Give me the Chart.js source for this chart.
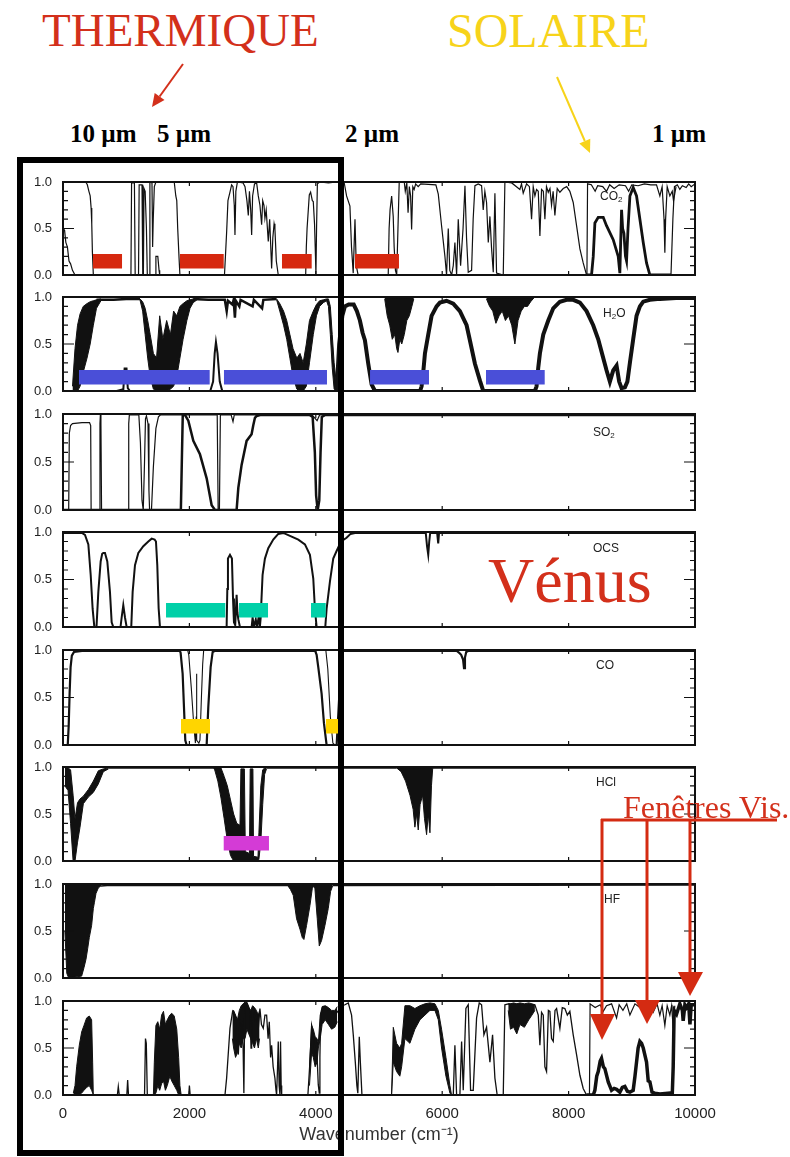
<!DOCTYPE html>
<html>
<head>
<meta charset="utf-8">
<script src="https://cdn.jsdelivr.net/npm/chart.js@4.4.1/dist/chart.umd.min.js"></script>
<style>
  body { margin: 0; background: #fff; }
  #page { position: relative; width: 790px; height: 1157px; overflow: hidden; background: #fff; }
  #page canvas { position: absolute; left: 0; }
  .t { position: absolute; white-space: nowrap; line-height: 1; }
  .serif { font-family: "Liberation Serif", "Times New Roman", serif; }
  .lbl { font: 12px "Liberation Sans", Arial, sans-serif; color: #222; }
  .lbl sub { font-size: 8px; vertical-align: -2px; }
</style>
</head>
<body>
<div id="page">
  <canvas id="p1"></canvas><canvas id="p2"></canvas><canvas id="p3"></canvas><canvas id="p4"></canvas>
  <canvas id="p5"></canvas><canvas id="p6"></canvas><canvas id="p7"></canvas><canvas id="p8"></canvas>

  <div class="t serif" style="left:42px;top:7px;font-size:47px;color:#d3301b">THERMIQUE</div>
  <div class="t serif" style="left:447px;top:7px;font-size:48px;color:#f7d31a">SOLAIRE</div>
  <div class="t serif" style="left:70px;top:121px;font-size:25px;font-weight:bold">10 µm</div>
  <div class="t serif" style="left:157px;top:121px;font-size:25px;font-weight:bold">5 µm</div>
  <div class="t serif" style="left:345px;top:121px;font-size:25px;font-weight:bold">2 µm</div>
  <div class="t serif" style="left:652px;top:121px;font-size:25px;font-weight:bold">1 µm</div>
  <div class="t serif" style="left:488px;top:549px;font-size:64px;color:#d3301b">Vénus</div>
  <div class="t serif" style="left:623px;top:791px;font-size:32px;color:#d3301b">Fenêtres Vis.</div>

  <div class="t lbl" style="left:600px;top:189px">CO<sub>2</sub></div>
  <div class="t lbl" style="left:603px;top:306px">H<sub>2</sub>O</div>
  <div class="t lbl" style="left:593px;top:425px">SO<sub>2</sub></div>
  <div class="t lbl" style="left:593px;top:541px">OCS</div>
  <div class="t lbl" style="left:596px;top:658px">CO</div>
  <div class="t lbl" style="left:596px;top:775px">HCl</div>
  <div class="t lbl" style="left:604px;top:892px">HF</div>

  <svg width="790" height="1157" style="position:absolute;left:0;top:0;z-index:5">
    <rect x="20" y="160" width="321" height="993" fill="none" stroke="#000" stroke-width="6"/>
    <line x1="183" y1="64" x2="159.6" y2="96.5" stroke="#d3301b" stroke-width="2"/>
    <polygon points="152,107 164.5,100 154.7,93" fill="#d3301b"/>
    <line x1="557" y1="77" x2="584.8" y2="141" stroke="#f7d31a" stroke-width="2"/>
    <polygon points="590,153 590.3,138.7 579.3,143.5" fill="#f7d31a"/>
    <g stroke="#d42b12" stroke-width="3" fill="none">
      <line x1="601" y1="820" x2="777" y2="820"/>
      <line x1="602" y1="819" x2="602" y2="1015"/>
      <line x1="647" y1="819" x2="647" y2="1001"/>
      <line x1="690" y1="819" x2="690" y2="973"/>
    </g>
    <g fill="#d42b12">
      <polygon points="590,1014 615,1014 602,1040"/>
      <polygon points="635,1000 660,1000 647,1024"/>
      <polygon points="678,972 703,972 690,996"/>
    </g>
  </svg>
</div>

<script>
// ---- data : wavenumber (cm-1), transmission ----

// colored marker bands [from, to]
const co2Bars = [[475, 934], [1851, 2543], [3465, 3935], [4620, 5316]];
const h2oBars = [[253, 2321], [2547, 4177], [4858, 5791], [6693, 7622]];
const ocsBars = [[1630, 2568], [2785, 3244], [3924, 4157]];
const coBars = [[1867, 2326], [4161, 4399]];
const hclBars = [[2543, 3259]];

// CO2
const co2Main = [[0,1],[360,1],[385,0.97],[410,0.9],[430,0.85],[445,0.72],[455,0.55],[465,0.25],[480,0],
  [1075,0],[1085,0.99],[1130,0.99],[1142,0],[1195,0],[1205,0.97],[1250,0.97],[1262,0],
  [1272,0],[1282,0.93],[1300,0.9],[1320,0.5],[1334,0],[1362,0],[1375,1],[1408,0.99],[1418,0.3],[1428,0.6],[1445,0.95],[1470,1],
  [1760,1],[1785,0.85],[1800,0.8],[1815,0.5],[1835,0.2],[1850,0],
  [2555,0],[2570,0.2],[2589,0.46],[2610,0.8],[2642,0.89],[2668,0.97],[2690,0.95],[2710,0.75],[2721,0.43],[2735,0.9],[2760,1],
  [2850,0.99],[2880,0.95],[2910,0.8],[2932,0.64],[2950,0.9],[2970,0.7],[2985,0.43],[3000,0.85],[3030,0.98],[3064,0.99],
  [3090,0.85],[3116,0.75],[3143,0.54],[3160,0.8],[3180,0.75],[3195,0.61],[3215,0.7],[3248,0.36],[3270,0.6],[3301,0.07],
  [3320,0.4],[3340,0.55],[3353,0.5],[3375,0.15],[3406,0],
  [3840,0],[3850,0.3],[3862,0.5],[3897,0.86],[3918,0.89],[3945,0.8],[3960,0.79],[3980,0.55],[3995,0.2],[4002,0],[4012,0.5],[4025,0.98],
  [4060,1],[4200,0.99],[4330,1],[4450,0.99],[4487,0.85],[4540,0.74],[4565,0.3],[4592,0.02],[4620,0.6],[4640,0.1],[4670,0],
  [5146,0],[5160,0.5],[5175,0.7],[5200,0.85],[5225,0.63],[5240,0.3],[5260,0.05],[5280,0],[5300,0.5],[5320,1],
  [5400,1],[5416,0.9],[5440,0.99],[5460,0.67],[5480,0.95],[5500,0.85],[5516,0.49],[5535,0.95],[5556,0.92],[5580,0.98],
  [5620,0.95],[5660,0.98],[5900,0.97],[5938,0.87],[5990,0.53],[6043,0.2],[6069,0],[6096,0.5],[6120,0.05],[6149,0],
  [6175,0.1],[6201,0.35],[6228,0],[6254,0.6],[6291,0.1],[6330,0.5],[6360,0.96],[6385,0.4],[6412,0.03],[6465,0.05],
  [6490,0.6],[6518,0.96],[6570,0.98],[6623,0.96],[6649,0.7],[6675,0.9],[6702,0.78],[6729,0.35],[6755,0.63],[6780,0.3],
  [6808,0.03],[6834,0.88],[6860,0.02],[6966,0],[6992,1],
  [7100,0.99],[7229,0.92],[7255,0.98],[7282,0.88],[7335,0.98],[7380,0.95],[7414,0.6],[7440,0.95],[7467,0.85],[7493,0.92],
  [7520,0.9],[7546,0.42],[7572,0.92],[7600,0.9],[7625,0.6],[7650,0.95],[7678,0.89],[7705,0.93],[7730,0.75],[7755,0.9],
  [7783,0.64],[7820,0.93],[7862,0.89],[7915,0.93],[7970,0.95],[8020,0.9],[8073,0.78],[8126,0.53],[8179,0.28],[8231,0.13],[8284,0],
  [9620,0],[9650,0.6],[9675,0.95],[9720,0.97],[9760,0.92],[9800,0.96],[9860,0.94],[9900,0.98],[9940,0.95],[10000,0.98]];
const co2Win = [[8284,0],[8363,0],[8390,0.2],[8416,0.56],[8469,0.62],[8548,0.62],[8600,0.53],[8706,0.38],[8785,0.2],[8811,0.02],
  [8838,0.7],[8855,0.5],[8875,0.45],[8900,0.2],[8917,0.15],[8940,0.5],[8970,0.85],[9022,0.94],[9075,0.85],[9128,0.6],
  [9181,0.35],[9233,0.13],[9286,0],[9620,0]];
const co2Extra = [[0,0.5],[25,0.48],[45,0.35],[70,0.3],[95,0.15],[120,0.12],[150,0.05],[190,0],[230,null],
  [1460,0],[1470,0.2],[1500,0.2],[1520,0.05],[1530,0],[1540,null],
  [8290,0],[8300,0.98],[8360,0.97],[8420,0.9],[8460,0.96],[8540,0.95],[8600,0.9],[8650,0.97],[8720,0.93],[8800,0.97],
  [8900,0.96],[8950,0.9],[9000,0.97],[9100,0.96],[9200,0.98],[9300,0.97],[9391,0.97],[9444,0.85],[9480,0.95],[9510,0.6],
  [9523,0.24],[9535,0.6],[9560,0.95],[9602,0.85],[9640,0.9],[9660,0.8],[9700,0.95]];

// H2O : dense parts as [x, low, high]
const h2oBandA = [[150,0,0.05],[190,0,0.45],[230,0,0.7],[270,0.05,0.82],[320,0.2,0.9],[380,0.35,0.93],[430,0.5,0.95],
  [480,0.7,0.96],[530,0.88,0.97],[600,0.96,0.98]];
const h2oBandB = [[1218,0.97,0.98],[1260,0.85,0.95],[1300,0.6,0.88],[1340,0.35,0.75],[1380,0.15,0.6],[1430,0.02,0.4],
  [1480,0,0.35],[1530,0,0.8],[1580,0,0.55],[1640,0,0.75],[1700,0.02,0.6],[1750,0.05,0.85],[1800,0.15,0.8],[1850,0.35,0.9],
  [1900,0.55,0.93],[1960,0.75,0.96],[2010,0.88,0.97],[2060,0.94,0.98],[2120,0.97,0.98]];
const h2oBandC = [[3380,0.97,0.98],[3430,0.85,0.93],[3490,0.7,0.85],[3540,0.55,0.75],[3590,0.35,0.6],[3640,0.15,0.45],
  [3700,0.02,0.35],[3750,0,0.4],[3800,0,0.3],[3850,0.05,0.5],[3900,0.3,0.75],[3960,0.6,0.85],[4010,0.8,0.92],[4060,0.9,0.96],
  [4120,0.94,0.97],[4170,0.96,0.98],[4200,0.9,0.98],[4230,0.6,0.9],[4260,0.25,0.6],[4290,0.02,0.3],[4330,0,0.05]];
const h2oForest1 = [[5090,0.98,0.99],[5130,0.8,0.99],[5170,0.7,0.99],[5210,0.55,0.99],[5250,0.6,0.99],[5280,0.45,0.99],
  [5300,0.41,0.99],[5330,0.55,0.99],[5360,0.5,0.99],[5400,0.6,0.99],[5440,0.75,0.99],[5480,0.8,0.99],[5520,0.9,0.99],[5550,0.98,0.99]];
const h2oForest2 = [[6700,0.98,0.99],[6750,0.9,0.99],[6800,0.85,0.99],[6850,0.72,0.99],[6900,0.8,0.99],[6950,0.85,0.99],
  [7000,0.75,0.99],[7050,0.8,0.99],[7100,0.7,0.99],[7150,0.5,0.99],[7200,0.75,0.99],[7250,0.85,0.99],[7300,0.9,0.99],
  [7350,0.9,0.99],[7400,0.95,0.99],[7450,0.99,0.99]];
const h2oTop = [[530,0.97],[800,0.97],[1000,0.98],[1218,0.98],[1219,null],
  [2060,0.98],[2300,0.97],[2560,0.97],[2590,0.85],[2610,0.96],[2680,0.92],[2700,0.97],[2720,0.78],[2735,0.96],[2790,0.9],
  [2810,0.97],[3000,0.9],[3020,0.97],[3150,0.88],[3170,0.97],[3380,0.98]];
const h2oMain = [[4330,0],[4370,0.5],[4420,0.8],[4460,0.9],[4520,0.92],[4600,0.92],[4650,0.85],[4698,0.75],[4740,0.62],
  [4777,0.54],[4830,0.29],[4883,0.07],[4936,0],[5650,0],[5674,0.05],[5700,0.2],[5727,0.4],[5779,0.6],[5832,0.8],[5911,0.9],
  [5964,0.94],[6069,0.96],[6175,0.93],[6280,0.85],[6386,0.7],[6438,0.54],[6518,0.29],[6597,0.11],[6650,0],[7467,0],
  [7493,0.05],[7520,0.25],[7546,0.4],[7599,0.6],[7678,0.75],[7757,0.88],[7862,0.95],[7968,0.97],[8073,0.97],[8179,0.94],
  [8284,0.85],[8389,0.7],[8469,0.55],[8548,0.35],[8600,0.22],[8653,0.1],[8706,0.22],[8759,0.27],[8800,0.1],[8838,0.03],
  [8891,0.04],[8930,0.1],[8970,0.3],[9022,0.55],[9075,0.8],[9128,0.9],[9181,0.95],[9286,0.97],[9444,0.98],[9700,0.99],[10000,0.99]];
const h2oPeaks = [[850,0],[955,0.02],[975,0.24],[1005,0.24],[1025,0.03],[1060,0],[1070,null],
  [2330,0],[2375,0.1],[2400,0.4],[2420,0.52],[2445,0.4],[2480,0.1],[2520,0]];

// SO2
const so2Thin = [[0,0],[90,0],[100,0.8],[120,0.88],[150,0.9],[300,0.91],[420,0.91],[438,0.88],[445,0],[575,0],[585,0.9],
  [592,1],[600,0.9],[610,0],[1030,0],[1040,0.9],[1050,0.99],[1200,0.99],[1225,0.7],[1250,0.1],[1270,0],[1290,0.5],
  [1305,0.95],[1320,0.98],[1345,0.9],[1360,0.2],[1370,0],[1400,0],[1430,0.45],[1470,0.85],[1510,0.97],[1540,0.99],
  [2440,0.99],[2455,0],[2475,0],[2490,0.99],[2660,0.99],[2690,0.92],[2710,0.99],[3940,0.99],[4020,0.93],[4060,0.99],[10000,0.99]];
const so2Thick = [[0,0],[1865,0],[1880,0.5],[1895,0.99],[1930,0.99],[1983,0.93],[2062,0.72],[2167,0.58],[2273,0.33],
  [2352,0.05],[2405,0],[2747,0],[2774,0.23],[2826,0.47],[2905,0.72],[2984,0.79],[3010,0.88],[3037,0.96],[3064,0.98],
  [3120,0.99],[3900,0.99],[3950,0.97],[3985,0.6],[4005,0.15],[4030,0],[4055,0.1],[4075,0.6],[4095,0.97],[4150,0.99],[10000,0.99]];

// OCS
const ocsMain = [[0,0.99],[300,0.99],[348,0.97],[401,0.87],[438,0.55],[469,0.19],[496,0],[530,0],[559,0.37],[596,0.69],
  [620,0.77],[638,0.78],[664,0.78],[701,0.69],[743,0.37],[770,0.05],[796,0],[910,0],[928,0.1],[954,0.23],[981,0.1],[1007,0],
  [1080,0],[1102,0.37],[1139,0.65],[1192,0.78],[1271,0.85],[1350,0.9],[1403,0.93],[1450,0.92],[1471,0.9],[1492,0.65],
  [1513,0.2],[1534,0],[2589,0],[2600,0.4],[2610,0.72],[2642,0.76],[2673,0.72],[2690,0.3],[2705,0.05],[2725,0.02],
  [2747,0.34],[2760,0.15],[2774,0.08],[2800,0],[2985,0],[3000,0.1],[3020,0],[3050,0.08],[3070,0],[3100,0.12],[3115,0],
  [3127,0.09],[3158,0.55],[3195,0.72],[3248,0.83],[3327,0.92],[3406,0.98],[3485,0.99],[3591,0.96],[3723,0.92],[3828,0.87],
  [3907,0.76],[3960,0.51],[3986,0.19],[4013,0],[4150,0],[4171,0.19],[4224,0.48],[4276,0.72],[4329,0.8],[4400,0.9],
  [4487,0.94],[4550,0.98],[4619,0.99],[5740,0.99],[5760,0.85],[5779,0.76],[5795,0.9],[5810,0.99],[5920,0.99],[5937,0.88],
  [5950,0.99],[10000,0.99]];

// CO
const coMain = [[0,0],[75,0],[90,0.2],[105,0.55],[120,0.82],[140,0.94],[175,0.98],[300,0.99],[1850,0.99],[1861,0.97],
  [1893,0.75],[1914,0.4],[1935,0.05],[1956,0],[2273,0],[2299,0.4],[2336,0.82],[2368,0.98],[2400,0.99],[3990,0.99],
  [4013,0.95],[4039,0.82],[4092,0.54],[4129,0.23],[4171,0],[4330,0],[4370,0.5],[4400,0.9],[4430,0.99],[6230,0.99],
  [6270,0.97],[6300,0.95],[6330,0.9],[6345,0.81],[6360,0.92],[6380,0.98],[6410,0.99],[10000,0.99]];
const coInner = [[1975,0.99],[1990,0.95],[2030,0.6],[2070,0.2],[2095,0.02],[2108,0.3],[2112,0.75],[2118,0.05],[2150,0.02],
  [2167,0.05],[2190,0.5],[2210,0.85],[2225,0.99],[2235,null],[4160,0.99],[4190,0.8],[4230,0.3],[4270,0.02],[4300,0]];

// HCl
const hclBandL = [[30,0.8,0.99],[80,0.75,0.99],[120,0.4,0.97],[160,0,0.7],[190,0,0.45],[230,0.2,0.62],[269,0.36,0.66],
  [322,0.61,0.69],[401,0.68,0.76],[480,0.73,0.85],[559,0.82,0.96],[638,0.95,0.98],[720,0.98,0.99]];
const hclBandF = [[2380,0.99,0.99],[2400,0.97,1],[2450,0.85,1],[2500,0.67,0.99],[2550,0.45,0.9],[2600,0.22,0.8],
  [2650,0.06,0.65],[2700,0,0.5],[2750,0,0.4],[2800,0,0.38],[2815,0,0.98],[2870,0,0.98],[2885,0,0.1],[2950,0,0.08],
  [2962,0,0.98],[3005,0,0.98],[3015,0,0.05],[3085,0,0.04],[3100,0.02,0.3],[3130,0.2,0.8],[3160,0.6,0.97],[3190,0.92,0.99],[3220,0.98,0.99]];
const hclBandO = [[5280,0.99,0.99],[5350,0.95,0.99],[5420,0.85,0.99],[5490,0.7,0.99],[5540,0.55,0.99],[5568,0.36,0.99],
  [5595,0.5,0.99],[5621,0.33,0.99],[5650,0.6,0.99],[5690,0.7,0.99],[5720,0.45,0.99],[5753,0.28,0.99],[5780,0.5,0.99],
  [5806,0.3,0.99],[5830,0.8,0.99],[5850,0.99,0.99]];
const hclTop = [[720,0.99],[2380,0.99],[2381,null],[3220,0.99],[5280,0.99],[5281,null],[5850,0.99],[10000,0.99]];

// HF
const hfBandL = [[30,0.5,0.99],[60,0.05,0.99],[90,0,0.99],[295,0.02,0.99],[332,0.11,0.99],[364,0.2,0.99],[390,0.31,0.99],
  [416,0.43,0.99],[453,0.56,0.99],[480,0.74,0.99],[496,0.8,0.99],[522,0.9,0.99],[560,0.96,0.99],[600,0.98,0.99]];
const hfBandR = [[3560,0.98,0.99],[3600,0.94,0.99],[3643,0.88,0.99],[3696,0.63,0.99],[3749,0.52,0.99],[3786,0.43,0.99],
  [3812,0.41,0.99],[3854,0.56,0.99],[3907,0.77,0.99],[3944,0.95,0.99],[3965,0.98,0.99],[3986,0.95,0.99],[4023,0.63,0.99],
  [4055,0.34,0.99],[4092,0.4,0.99],[4145,0.56,0.99],[4197,0.74,0.99],[4234,0.92,0.99],[4266,0.98,0.99]];
const hfTop = [[600,0.98],[700,0.985],[3560,0.985],[3561,null],[4266,0.985],[10000,0.99]];

// total transmission
const totBand1 = [[163,0,0.02],[190,0,0.1],[216,0,0.3],[258,0,0.53],[295,0.02,0.67],[332,0.05,0.74],[374,0.08,0.82],
  [416,0.1,0.84],[453,0.05,0.8],[469,0.02,0.35],[480,0,0]];
const totBand2 = [[1430,0,0],[1445,0,0.35],[1470,0.02,0.74],[1500,0.1,0.78],[1530,0.05,0.7],[1560,0.12,0.85],
  [1590,0.15,0.89],[1620,0.05,0.75],[1650,0.1,0.8],[1690,0.2,0.85],[1720,0.15,0.87],[1760,0.1,0.84],[1800,0.05,0.7],
  [1830,0,0.4],[1850,0,0.1],[1870,0,0]];
const totBand3 = [[2680,0.6,0.89],[2700,0.5,0.9],[2730,0.4,0.85],[2760,0.45,0.8],[2790,0.55,0.9],[2820,0.5,0.95],
  [2850,0.6,0.97],[2880,0.6,0.99],[2910,0.7,0.98],[2940,0.65,0.93],[2970,0.6,0.9],[3000,0.55,0.95],[3030,0.5,0.93],
  [3060,0.6,0.9],[3090,0.5,0.85],[3110,0.6,0.9]];
const totBand4 = [[3900,0.1,0.3],[3934,0.45,0.74],[3960,0.4,0.7],[3990,0.3,0.62],[4020,0.35,0.6],[4040,0.5,0.55],
  [4070,0.6,0.85],[4100,0.75,0.94],[4150,0.8,0.95],[4200,0.75,0.93],[4250,0.7,0.9],[4300,0.72,0.9],[4340,0.78,0.94]];
const totBand5 = [[5199,0,0],[5226,0.35,0.72],[5278,0.25,0.55],[5330,0.2,0.5],[5358,0.3,0.55],[5410,0.6,0.95],
  [5489,0.55,0.95],[5568,0.7,0.92],[5648,0.8,0.95],[5727,0.85,0.97],[5806,0.9,0.98],[5885,0.9,0.97],[5938,0.8,0.9],
  [5990,0.5,0.7],[6059,0.2,0.4],[6122,0.02,0.1],[6148,0,0]];
const totBand6 = [[7045,0.9,0.97],[7080,0.7,0.97],[7130,0.72,0.98],[7180,0.65,0.97],[7230,0.75,0.98],[7300,0.72,0.97],
  [7370,0.8,0.98],[7420,0.85,0.97],[7467,0.9,0.96]];
const totMain = [[0,0],[860,0],[875,0.09],[890,0],[1010,0],[1023,0.16],[1036,0],[1290,0],[1305,0.6],[1318,0.55],[1334,0],
  [1990,0],[2000,0.1],[2012,0],[2563,0],[2589,0.18],[2642,0.71],[2684,0.89],[2721,0.85],[2745,0.6],[2774,0.43],[2800,0.8],
  [2826,0.78],[2850,0.5],[2862,0.02],[2875,0.9],[2905,0.99],[2930,0.95],[2958,0.9],[2975,0.5],[2985,0.53],[3000,0.9],
  [3011,0.92],[3040,0.8],[3064,0.85],[3090,0.7],[3116,0.92],[3140,0.75],[3169,0.71],[3195,0.85],[3222,0.85],[3245,0.6],
  [3264,0.78],[3285,0.4],[3301,0.53],[3325,0.3],[3353,0.18],[3370,0.05],[3380,0],[3395,0.3],[3406,0.57],[3420,0.1],
  [3433,0],[3442,0.57],[3452,0.1],[3460,0],[3875,0],[3907,0.35],[3934,0.74],[3960,0.65],[3986,0.46],[4013,0.53],
  [4039,0.11],[4055,0.02],[4065,0.4],[4076,0.85],[4118,0.94],[4171,0.92],[4250,0.88],[4303,0.85],[4360,0.9],[4420,0.95],
  [4461,0.96],[4514,0.98],[4566,0.85],[4593,0.64],[4625,0.35],[4650,0.1],[4665,0.02],[4688,0.62],[4705,0.35],[4730,0],
  [6175,0],[6201,0.53],[6228,0],[6280,0],[6307,0.57],[6333,0.05],[6375,0.92],[6412,0.96],[6449,0.05],[6491,0.05],
  [6544,0.82],[6586,0.98],[6623,0.96],[6660,0.64],[6702,0.72],[6755,0.35],[6797,0.64],[6834,0.18],[6870,0],[6966,0],
  [6992,0.96],[7045,0.97],[7467,0.96],[7520,0.85],[7546,0.53],[7572,0.88],[7599,0.85],[7625,0.3],[7651,0.25],[7680,0.9],
  [7704,0.89],[7730,0.6],[7757,0.57],[7785,0.9],[7810,0.92],[7862,0.71],[7900,0.93],[7941,0.92],[7980,0.85],[8020,0.89],
  [8073,0.64],[8126,0.43],[8179,0.21],[8231,0.07],[8284,0]];
const totWin = [[8284,0],[8390,0],[8416,0.05],[8445,0.2],[8469,0.25],[8500,0.36],[8521,0.39],[8550,0.3],[8574,0.28],
  [8627,0.14],[8680,0.05],[8720,0.07],[8759,0.06],[8811,0.03],[8850,0.08],[8890,0.09],[8930,0.04],[8970,0.03],[9022,0.05],
  [9050,0.2],[9075,0.35],[9100,0.5],[9128,0.57],[9155,0.55],[9181,0.5],[9233,0.35],[9260,0.15],[9286,0.14],[9320,0.03],
  [9365,0.02],[9444,0.01],[9602,0.02],[9640,0],[9655,0.3],[9670,0.9],[9708,0.86],[9760,0.97],[9800,0.9],[9813,0.79],
  [9840,0.96],[9866,0.93],[9900,0.97],[9920,0.75],[9940,0.96],[10000,0.96]];
const totB = [[8330,0],[8340,0.97],[8420,0.93],[8500,0.96],[8548,0.89],[8600,0.95],[8680,0.97],[8759,0.82],[8800,0.96],
  [8860,0.9],[8920,0.97],[8970,0.85],[9050,0.97],[9128,0.93],[9200,0.97],[9300,0.95],[9339,0.88],[9400,0.97],[9444,0.85],
  [9480,0.95],[9523,0.74],[9560,0.95],[9602,0.85],[9630,0.95],[9655,0.71],[9680,0.95]];

// ---- helpers ----
const INK = '#111';
const pts = a => a.map(p => ({ x: p[0], y: p[1] }));

function line(a, w) {
  return { data: pts(a), borderColor: INK, borderWidth: w, pointRadius: 0, fill: false, tension: 0, order: 1 };
}
function band(a) {
  return [
    { data: a.map(p => ({ x: p[0], y: p[1] })), borderColor: INK, borderWidth: 1, pointRadius: 0, fill: false, order: 2 },
    { data: a.map(p => ({ x: p[0], y: p[2] })), borderColor: INK, borderWidth: 1, pointRadius: 0, fill: '-1', backgroundColor: INK, order: 2 }
  ];
}
function bars(ranges, level, color) {
  const d = [];
  ranges.forEach(r => d.push({ x: r[0], y: level }, { x: r[1], y: level }, { x: r[1] + 1, y: null }));
  return { data: d, borderColor: color, borderWidth: 14.5, borderCapStyle: 'butt', pointRadius: 0, spanGaps: false, fill: false, order: 0 };
}

// frame with inward ticks
const framePlugin = {
  id: 'frame',
  afterDatasetsDraw(chart) {
    const { ctx, chartArea: a, scales: { x, y } } = chart;
    ctx.save();
    ctx.strokeStyle = INK;
    ctx.lineWidth = 2;
    ctx.strokeRect(a.left, a.top, a.right - a.left, a.bottom - a.top);
    ctx.lineWidth = 1.2;
    ctx.beginPath();
    for (let i = 1; i < 10; i++) {
      const py = y.getPixelForValue(i / 10), len = i === 5 ? 11 : 5;
      ctx.moveTo(a.left, py); ctx.lineTo(a.left + len, py);
      ctx.moveTo(a.right, py); ctx.lineTo(a.right - len, py);
    }
    for (let v = 2000; v < 10000; v += 2000) {
      const px = x.getPixelForValue(v);
      ctx.moveTo(px, a.bottom); ctx.lineTo(px, a.bottom - 4);
      ctx.moveTo(px, a.top); ctx.lineTo(px, a.top + 4);
    }
    ctx.stroke();
    ctx.restore();
  }
};

function makePanel(id, top, bottom, datasets, last) {
  const c = document.getElementById(id);
  const isLast = !!last;
  const padT = 20, padB = isLast ? 62 : 20;
  c.width = 790;
  c.height = bottom - top + padT + padB;
  c.style.top = (top - padT) + 'px';
  new Chart(c, {
    type: 'line',
    data: { datasets },
    options: {
      responsive: false,
      animation: false,
      devicePixelRatio: 1,
      layout: { padding: { left: 0, right: 95, top: padT, bottom: isLast ? 0 : padB } },
      plugins: { legend: { display: false }, tooltip: { enabled: false } },
      scales: {
        x: {
          type: 'linear', min: 0, max: 10000, display: isLast,
          afterFit: s => { s.height = isLast ? padB : 0; },
          grid: { display: false, drawTicks: false }, border: { display: false },
          ticks: { stepSize: 2000, autoSkip: false, maxRotation: 0, padding: 10, color: '#222',
                   font: { family: 'Liberation Sans', size: 15 }, callback: v => String(v) },
          title: { display: isLast, text: 'Wavenumber (cm⁻¹)', color: '#333',
                   font: { family: 'Liberation Sans', size: 18 }, padding: { top: 0, bottom: 11 } }
        },
        y: {
          min: 0, max: 1,
          afterFit: s => { s.width = 63; },
          grid: { display: false, drawTicks: false }, border: { display: false },
          ticks: { stepSize: 0.5, padding: 11, color: '#222', font: { family: 'Liberation Sans', size: 13 },
                   callback: v => v.toFixed(1) }
        }
      }
    },
    plugins: [framePlugin]
  });
}

makePanel('p1', 182, 275, [bars(co2Bars, 0.147, '#d6280f'), line(co2Main, 1.2), line(co2Win, 2.8), line(co2Extra, 1.2)]);
makePanel('p2', 297, 391, [bars(h2oBars, 0.147, '#4a4fd8'), ...band(h2oBandA), ...band(h2oBandB), ...band(h2oBandC),
  ...band(h2oForest1), ...band(h2oForest2), line(h2oTop, 2.5), line(h2oMain, 4), line(h2oPeaks, 2)]);
makePanel('p3', 414, 510, [line(so2Thin, 1.2), line(so2Thick, 2.5)]);
makePanel('p4', 532, 627, [bars(ocsBars, 0.177, '#00d0a8'), line(ocsMain, 2)]);
makePanel('p5', 650, 745, [bars(coBars, 0.197, '#ffd500'), line(coMain, 2.2), line(coInner, 1.1)]);
makePanel('p6', 767, 861, [bars(hclBars, 0.188, '#d43bd6'), ...band(hclBandL), ...band(hclBandF), ...band(hclBandO), line(hclTop, 1.5)]);
makePanel('p7', 884, 978, [...band(hfBandL), ...band(hfBandR), line(hfTop, 1.5)]);
makePanel('p8', 1001, 1095, [...band(totBand1), ...band(totBand2), ...band(totBand3), ...band(totBand4), ...band(totBand5),
  ...band(totBand6), line(totMain, 1.3), line(totWin, 3.5), line(totB, 1.2)], true);
</script>
</body>
</html>
